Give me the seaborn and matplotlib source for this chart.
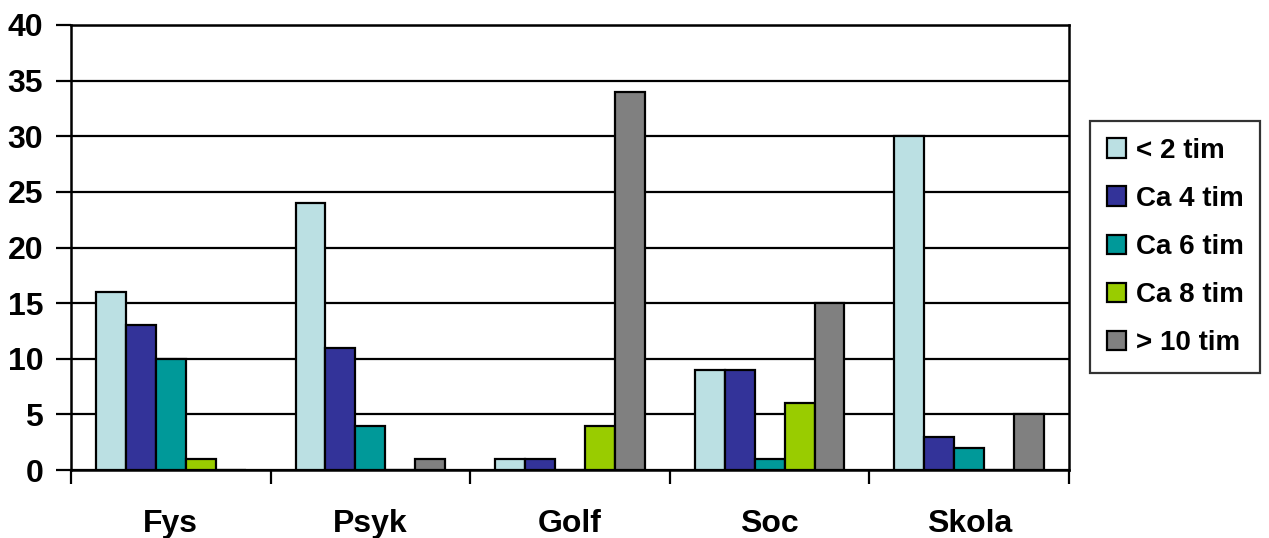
import numpy as np
import pandas as pd
import matplotlib
matplotlib.use("Agg")
import matplotlib.pyplot as plt
import seaborn as sns

categories = ["Fys", "Psyk", "Golf", "Soc", "Skola"]
series_names = ["< 2 tim", "Ca 4 tim", "Ca 6 tim", "Ca 8 tim", "> 10 tim"]
under_2 = [16, 24, 1, 9, 30]
ca_4 = [13, 11, 1, 9, 3]
ca_6 = [10, 4, 0, 1, 2]
ca_8 = [1, 0, 4, 6, 0]
over_10 = [0, 1, 34, 15, 5]
colors = ["#BBE0E3", "#333399", "#009999", "#99CC00", "#808080"]
y_ticks = [0, 5, 10, 15, 20, 25, 30, 35, 40]

values = [under_2, ca_4, ca_6, ca_8, over_10]
rows = []
for name, vals in zip(series_names, values):
    for cat, v in zip(categories, vals):
        rows.append({"Kategori": cat, "Tid": name, "Antal": v})
df = pd.DataFrame(rows)

sns.set_theme(style="white")
plt.rcParams["font.family"] = ["Liberation Sans", "DejaVu Sans"]
plt.rcParams["font.weight"] = "bold"
plt.rcParams["text.color"] = "black"
plt.rcParams["xtick.color"] = "black"
plt.rcParams["ytick.color"] = "black"
plt.rcParams["xtick.labelcolor"] = "black"
plt.rcParams["ytick.labelcolor"] = "black"

fig = plt.figure(figsize=(12.69, 5.38), dpi=100)
ax = fig.add_axes([71 / 1269, 68 / 538, 998 / 1269, 445 / 538])

sns.barplot(data=df, x="Kategori", y="Antal", hue="Tid", order=categories,
            hue_order=series_names, palette=colors, width=0.75,
            edgecolor="black", linewidth=1.6, saturation=1, ax=ax, legend=True)

ax.set_ylim(0, 40)
ax.set_xlim(-0.5, len(categories) - 0.5)
ax.set_yticks(y_ticks)
ax.set_yticklabels([str(t) for t in y_ticks], fontsize=23, fontweight="bold",
                   color="black")
ax.yaxis.grid(True, color="black", linewidth=1.6)
ax.set_axisbelow(True)

# category labels at centres, tick marks at the boundaries between groups
ax.set_xticks(np.arange(-0.5, len(categories), 1.0))
ax.set_xticklabels([""] * (len(categories) + 1))
ax.set_xticks(np.arange(len(categories)), minor=True)
ax.set_xticklabels(categories, minor=True, fontsize=23, fontweight="bold",
                   color="black")
ax.tick_params(axis="x", which="major", direction="out", length=10, width=1.6,
               color="black", bottom=True)
ax.tick_params(axis="x", which="minor", length=0, pad=28)
ax.tick_params(axis="y", direction="out", length=11, width=1.6, color="black",
               left=True, pad=9)

ax.set_xlabel("")
ax.set_ylabel("")
for side in ["left", "right", "bottom", "top"]:
    ax.spines[side].set_visible(True)
    ax.spines[side].set_color("black")
    ax.spines[side].set_linewidth(1.8)

handles, labels = ax.get_legend_handles_labels()
ax.legend_.remove()
leg = fig.legend(handles, labels, loc="center left",
                 bbox_to_anchor=(1090 / 1269, 1 - 247 / 538),
                 prop={"family": ["Liberation Sans", "DejaVu Sans"],
                       "weight": "bold", "size": 20},
                 frameon=True, fancybox=False, shadow=False,
                 handlelength=0.7, handleheight=0.7, handletextpad=0.35,
                 labelspacing=0.8, borderpad=0.6, borderaxespad=0)
for t in leg.get_texts():
    t.set_color("black")
leg.get_frame().set_edgecolor("black")
leg.get_frame().set_linewidth(1.6)

fig.savefig("out.png", dpi=100)
